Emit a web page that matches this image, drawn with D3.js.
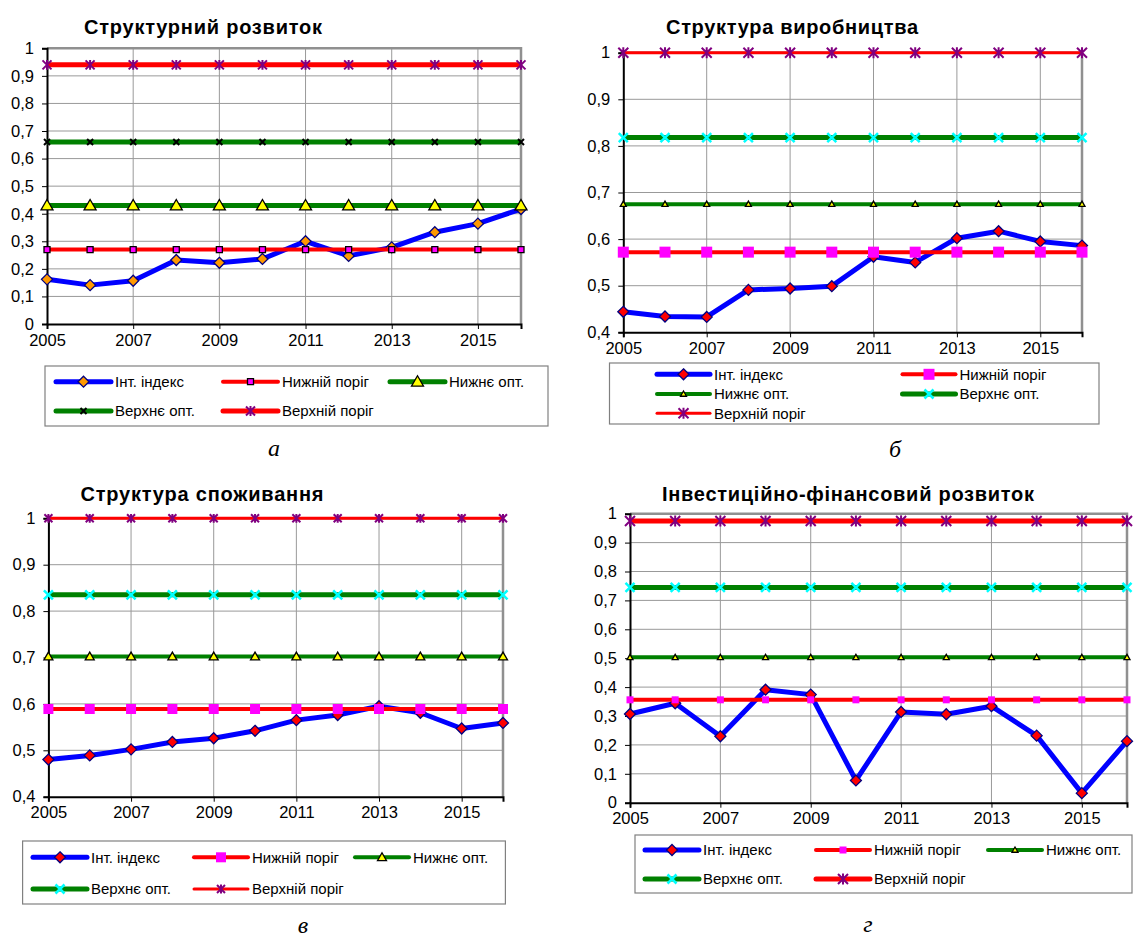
<!DOCTYPE html>
<html>
<head>
<meta charset="utf-8">
<script src="https://cdn.jsdelivr.net/npm/d3@7"></script>
<style>
  body { margin: 0; background: #fff; }
  svg { display: block; font-family: "Liberation Sans", Arial, sans-serif; }
</style>
</head>
<body>
<svg id="chart" width="1134" height="938"></svg>
<script>
// years on the x axis
const years = [2005, 2006, 2007, 2008, 2009, 2010, 2011, 2012, 2013, 2014, 2015, 2016];
const yearTicks = [2005, 2007, 2009, 2011, 2013, 2015];
const seriesNames = ['Інт. індекс', 'Нижній поріг', 'Нижнє опт.', 'Верхнє опт.', 'Верхній поріг'];

// а - Структурний розвиток
const structIndex  = [0.162, 0.141, 0.157, 0.232, 0.222, 0.236, 0.300, 0.247, 0.278, 0.333, 0.364, 0.417];
const structLowThr = [0.27, 0.27, 0.27, 0.27, 0.27, 0.27, 0.27, 0.27, 0.27, 0.27, 0.27, 0.27];
const structLowOpt = [0.43, 0.43, 0.43, 0.43, 0.43, 0.43, 0.43, 0.43, 0.43, 0.43, 0.43, 0.43];
const structUpOpt  = [0.66, 0.66, 0.66, 0.66, 0.66, 0.66, 0.66, 0.66, 0.66, 0.66, 0.66, 0.66];
const structUpThr  = [0.94, 0.94, 0.94, 0.94, 0.94, 0.94, 0.94, 0.94, 0.94, 0.94, 0.94, 0.94];

// б - Структура виробництва
const prodIndex  = [0.444, 0.434, 0.433, 0.491, 0.494, 0.499, 0.562, 0.550, 0.602, 0.617, 0.595, 0.586];
const prodLowThr = [0.572, 0.572, 0.572, 0.572, 0.572, 0.572, 0.572, 0.572, 0.572, 0.572, 0.572, 0.572];
const prodLowOpt = [0.675, 0.675, 0.675, 0.675, 0.675, 0.675, 0.675, 0.675, 0.675, 0.675, 0.675, 0.675];
const prodUpOpt  = [0.818, 0.818, 0.818, 0.818, 0.818, 0.818, 0.818, 0.818, 0.818, 0.818, 0.818, 0.818];
const prodUpThr  = [1, 1, 1, 1, 1, 1, 1, 1, 1, 1, 1, 1];

// в - Структура споживання
const consIndex  = [0.480, 0.489, 0.502, 0.518, 0.526, 0.542, 0.565, 0.576, 0.595, 0.581, 0.547, 0.559];
const consLowThr = [0.589, 0.589, 0.589, 0.589, 0.589, 0.589, 0.589, 0.589, 0.589, 0.589, 0.589, 0.589];
const consLowOpt = [0.702, 0.702, 0.702, 0.702, 0.702, 0.702, 0.702, 0.702, 0.702, 0.702, 0.702, 0.702];
const consUpOpt  = [0.835, 0.835, 0.835, 0.835, 0.835, 0.835, 0.835, 0.835, 0.835, 0.835, 0.835, 0.835];
const consUpThr  = [1, 1, 1, 1, 1, 1, 1, 1, 1, 1, 1, 1];

// г - Інвестиційно-фінансовий розвиток
const investIndex  = [0.307, 0.344, 0.230, 0.391, 0.374, 0.077, 0.314, 0.306, 0.334, 0.232, 0.033, 0.213];
const investLowThr = [0.356, 0.356, 0.356, 0.356, 0.356, 0.356, 0.356, 0.356, 0.356, 0.356, 0.356, 0.356];
const investLowOpt = [0.503, 0.503, 0.503, 0.503, 0.503, 0.503, 0.503, 0.503, 0.503, 0.503, 0.503, 0.503];
const investUpOpt  = [0.745, 0.745, 0.745, 0.745, 0.745, 0.745, 0.745, 0.745, 0.745, 0.745, 0.745, 0.745];
const investUpThr  = [0.975, 0.975, 0.975, 0.975, 0.975, 0.975, 0.975, 0.975, 0.975, 0.975, 0.975, 0.975];

// marker shapes, r = half size
const markerPath = {
    diamond: r => `M0,${-r}L${r},0L0,${r}L${-r},0Z`,
    square: r => `M${-r},${-r}H${r}V${r}H${-r}Z`,
    triangle: r => `M0,${-r}L${r},${r * 0.75}L${-r},${r * 0.75}Z`,
    x: r => `M${-r},${-r}L${r},${r}M${r},${-r}L${-r},${r}`,
    star: r => `M${-r},${-r}L${r},${r}M${r},${-r}L${-r},${r}M0,${-r * 1.1}V${r * 1.1}`
};

function styles(o) {
    // line colour/width + marker for the five series
    return [
        { color: '#0000ff', width: 5, shape: 'diamond', r: 5.5, fill: o.idxFill, stroke: '#000080', sw: 1.3 },
        { color: '#ff0000', width: 4, shape: 'square', r: o.sqR, fill: '#ff00ff', stroke: o.sqStroke, sw: 1.3 },
        { color: '#008000', width: o.loOptW, shape: 'triangle', r: o.triR, fill: '#ffff00', stroke: '#000', sw: 1.3 },
        { color: '#008000', width: 5, shape: 'x', r: o.xR, fill: 'none', stroke: o.xColor, sw: o.xSw },
        { color: '#ff0000', width: o.upThrW, shape: 'star', r: o.starR, fill: 'none', stroke: '#800080', sw: 2 }
    ];
}

const charts = [
    {
        title: 'Структурний розвиток', titleX: 203, titleW: 238, titleY: 34, letter: 'а', letterX: 274, letterY: 456,
        x0: 47, x1: 521, yTop: 48.3, yBot: 324, domain: [0, 1],
        series: [structIndex, structLowThr, structLowOpt, structUpOpt, structUpThr],
        style: styles({ idxFill: '#ff9900', sqR: 3, sqStroke: '#000', loOptW: 5, triR: 6, xR: 3, xColor: '#000', xSw: 2, upThrW: 5, starR: 4.5 }),
        legend: { box: [45, 366, 548, 426], cols: [56, 223, 390], rows: [381.7, 411], len: 55 }
    },
    {
        title: 'Структура виробництва', titleX: 792, titleW: 252, titleY: 34, letter: 'б', letterX: 895, letterY: 457,
        x0: 623.3, x1: 1082, yTop: 52.7, yBot: 332.3, domain: [0.4, 1],
        series: [prodIndex, prodLowThr, prodLowOpt, prodUpOpt, prodUpThr],
        style: styles({ idxFill: '#ff0000', sqR: 5.5, sqStroke: 'none', loOptW: 4, triR: 3, xR: 4.5, xColor: '#00ffff', xSw: 2.5, upThrW: 3, starR: 5 }),
        legend: { box: [609.5, 363, 1099, 424], cols: [657, 902.5], rows: [374.3, 394, 413.3], len: 53 }
    },
    {
        title: 'Структура споживання', titleX: 202, titleW: 243, titleY: 501, letter: 'в', letterX: 303, letterY: 933,
        x0: 48.4, x1: 503, yTop: 518.3, yBot: 796.7, domain: [0.4, 1],
        series: [consIndex, consLowThr, consLowOpt, consUpOpt, consUpThr],
        style: styles({ idxFill: '#ff0000', sqR: 5, sqStroke: 'none', loOptW: 4, triR: 4.5, xR: 4.5, xColor: '#00ffff', xSw: 2.5, upThrW: 3, starR: 4 }),
        legend: { box: [22.6, 841, 505.4, 904], cols: [33, 194, 355], rows: [857.3, 889], len: 54 }
    },
    {
        title: 'Інвестиційно-фінансовий розвиток', titleX: 848, titleW: 372, titleY: 501, letter: 'г', letterX: 868, letterY: 932,
        x0: 630, x1: 1127, yTop: 513.7, yBot: 802.7, domain: [0, 1],
        series: [investIndex, investLowThr, investLowOpt, investUpOpt, investUpThr],
        style: styles({ idxFill: '#ff0000', sqR: 3.5, sqStroke: 'none', loOptW: 4, triR: 3, xR: 4.5, xColor: '#00ffff', xSw: 2.5, upThrW: 5, starR: 5 }),
        legend: { box: [635, 835, 1132, 893], cols: [645, 816, 988], rows: [850, 879], len: 54 }
    }
];

const svg = d3.select('#chart');

function drawMarker(g, st, x, y) {
    g.append('path')
        .attr('transform', `translate(${x},${y})`)
        .attr('d', markerPath[st.shape](st.r))
        .attr('fill', st.fill)
        .attr('stroke', st.stroke)
        .attr('stroke-width', st.sw);
}

charts.forEach(c => {
    const g = svg.append('g');
    const x = d3.scaleLinear().domain([2005, 2016]).range([c.x0, c.x1]);
    const y = d3.scaleLinear().domain(c.domain).range([c.yBot, c.yTop]);
    const yTicks = d3.range(Math.round(c.domain[0] * 10), 11).map(v => v / 10);
    const fmt = d => (d === 0 || d === 1) ? String(d) : d3.format('.1f')(d).replace('.', ',');

    // gridlines
    g.append('g').selectAll('line').data(yTicks.filter(v => v > c.domain[0]))
        .join('line')
        .attr('x1', c.x0).attr('x2', c.x1)
        .attr('y1', d => y(d)).attr('y2', d => y(d))
        .attr('stroke', '#999').attr('stroke-width', 1);
    g.append('g').selectAll('line').data(yearTicks.filter(v => v > 2005))
        .join('line')
        .attr('x1', d => x(d)).attr('x2', d => x(d))
        .attr('y1', c.yTop).attr('y2', c.yBot)
        .attr('stroke', '#999').attr('stroke-width', 1);

    // plot frame (top + right, grey)
    g.append('path')
        .attr('d', `M${c.x0},${c.yTop}H${c.x1}V${c.yBot}`)
        .attr('fill', 'none').attr('stroke', '#909090').attr('stroke-width', 2.5);

    // axes
    const xAxis = g.append('g')
        .attr('transform', `translate(0,${c.yBot})`)
        .call(d3.axisBottom(x).tickValues(yearTicks).tickFormat(d3.format('d')).tickSizeOuter(0).tickSize(5).tickPadding(5));
    const yAxis = g.append('g')
        .attr('transform', `translate(${c.x0},0)`)
        .call(d3.axisLeft(y).tickValues(yTicks).tickFormat(fmt).tickSizeOuter(0).tickSize(5).tickPadding(8));
    [xAxis, yAxis].forEach(a => {
        a.select('.domain').attr('stroke', '#000').attr('stroke-width', 2);
        a.selectAll('.tick line').attr('stroke', '#000');
        a.selectAll('.tick text').attr('font-size', 16.5).attr('fill', '#000')
            .attr('font-family', '"Liberation Sans", Arial, sans-serif');
    });

    // series
    const line = d3.line().x((d, i) => x(years[i])).y(d => y(d));
    c.series.forEach((vals, si) => {
        const st = c.style[si];
        const sg = g.append('g');
        sg.append('path')
            .datum(vals)
            .attr('d', line)
            .attr('fill', 'none')
            .attr('stroke', st.color)
            .attr('stroke-width', st.width)
            .attr('stroke-linejoin', 'round');
        vals.forEach((v, i) => drawMarker(sg, st, x(years[i]), y(v)));
    });

    // title
    g.append('text')
        .attr('x', c.titleX - c.titleW / 2).attr('y', c.titleY)
        .attr('font-size', 20).attr('font-weight', 'bold')
        .attr('textLength', c.titleW).attr('lengthAdjust', 'spacing')
        .text(c.title);

    // legend
    const L = c.legend;
    g.append('rect')
        .attr('x', L.box[0]).attr('y', L.box[1])
        .attr('width', L.box[2] - L.box[0]).attr('height', L.box[3] - L.box[1])
        .attr('fill', '#fff').attr('stroke', '#808080').attr('stroke-width', 1.2);
    seriesNames.forEach((name, i) => {
        const col = i % L.cols.length;
        const row = Math.floor(i / L.cols.length);
        const lx = L.cols[col], ly = L.rows[row];
        const st = c.style[i];
        g.append('line')
            .attr('x1', lx).attr('x2', lx + L.len)
            .attr('y1', ly).attr('y2', ly)
            .attr('stroke', st.color).attr('stroke-width', st.width)
            .attr('stroke-linecap', 'round');
        drawMarker(g, st, lx + L.len / 2, ly);
        g.append('text')
            .attr('x', lx + L.len + 4).attr('y', ly)
            .attr('dy', '0.35em')
            .attr('font-size', 15)
            .text(name);
    });

    // panel letter
    g.append('text')
        .attr('x', c.letterX).attr('y', c.letterY)
        .attr('text-anchor', 'middle')
        .attr('font-family', '"Liberation Serif", "Times New Roman", serif')
        .attr('font-style', 'italic')
        .attr('font-size', 24)
        .text(c.letter);
});
</script>
</body>
</html>
